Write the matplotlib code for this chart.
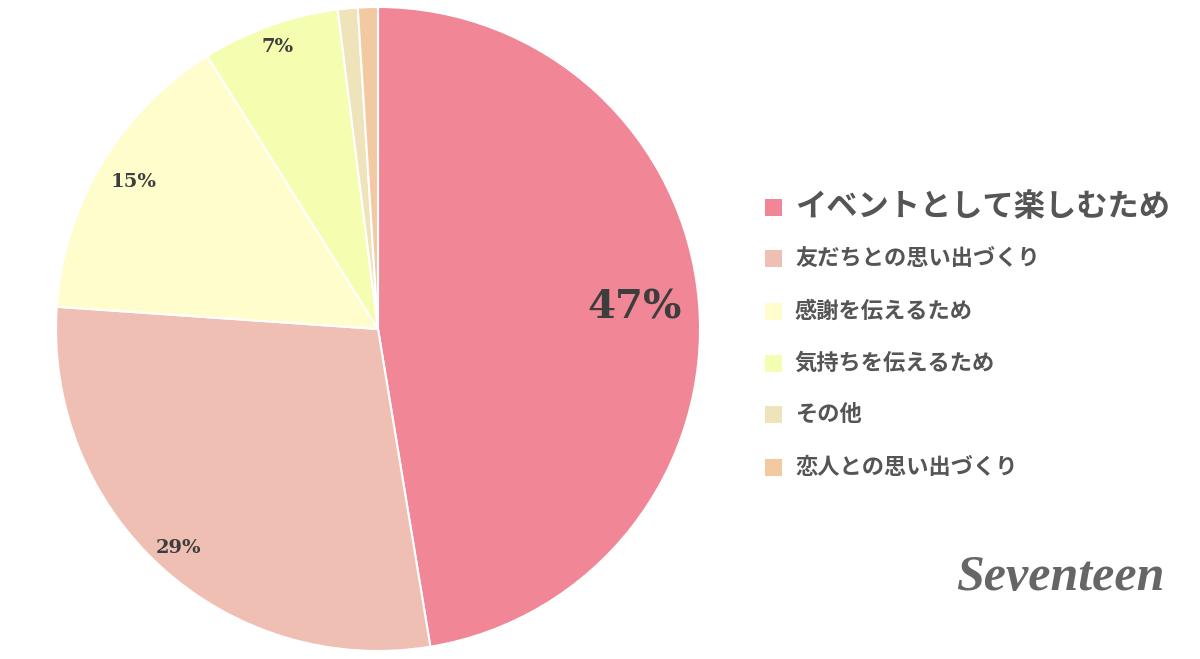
import matplotlib.pyplot as plt
from matplotlib.patches import Rectangle
import numpy as np

labels = ['イベントとして楽しむため', '友だちとの思い出づくり', '感謝を伝えるため',
          '気持ちを伝えるため', 'その他', '恋人との思い出づくり']
values = [47.4, 28.7, 15.0, 6.9, 1.0, 1.0]
pct_text = ['47%', '29%', '15%', '7%', '', '']
colors = ['#F08696', '#F0BFB4', '#FFFDCB', '#F5FDB0', '#EFE3BA', '#F2C9A0']

# label placement (fraction of radius) and font size, per slice
label_r = [0.80, 0.92, 0.885, 0.93, 0, 0]
label_fs = [29, 14, 14, 14, 0, 0]

W, H = 1200, 659
fig = plt.figure(figsize=(W / 100, H / 100), dpi=100)
fig.patch.set_facecolor('white')

cx, cy, r = 378, 330, 322
ax = fig.add_axes([(cx - r) / W, (cy - r) / H, 2 * r / W, 2 * r / H])
wedges, _ = ax.pie(values, colors=colors, startangle=90, counterclock=False,
                   wedgeprops=dict(edgecolor='white', linewidth=1.5))
ax.set_xlim(-1, 1)
ax.set_ylim(-1, 1)

for w, t, lr, fs in zip(wedges, pct_text, label_r, label_fs):
    if not t:
        continue
    ang = np.deg2rad((w.theta1 + w.theta2) / 2)
    ax.text(lr * np.cos(ang), lr * np.sin(ang), t, ha='center', va='center',
            fontsize=fs, fontweight='bold', family='DejaVu Serif', color='#3d3d3d')

# legend
ys = [207, 258, 311, 363, 414, 467]
for i, (lab, c, y) in enumerate(zip(labels, colors, ys)):
    sq = 17
    fig.add_artist(Rectangle((765 / W, (H - y - sq / 2) / H), sq / W, sq / H,
                             transform=fig.transFigure, facecolor=c, edgecolor='none'))
    fig.text(795 / W, (H - y) / H, lab, ha='left', va='center',
             fontsize=22.5 if i == 0 else 16, fontweight='bold',
             family=['Noto Sans CJK JP', 'DejaVu Sans'], color='#555555')

# logo
fig.text(1060 / W, (H - 578) / H, 'Seventeen', ha='center', va='center',
         fontsize=36, fontstyle='italic', fontweight='bold',
         family='Liberation Serif', color='#666666')

fig.savefig('out.png', dpi=100, facecolor='white')
